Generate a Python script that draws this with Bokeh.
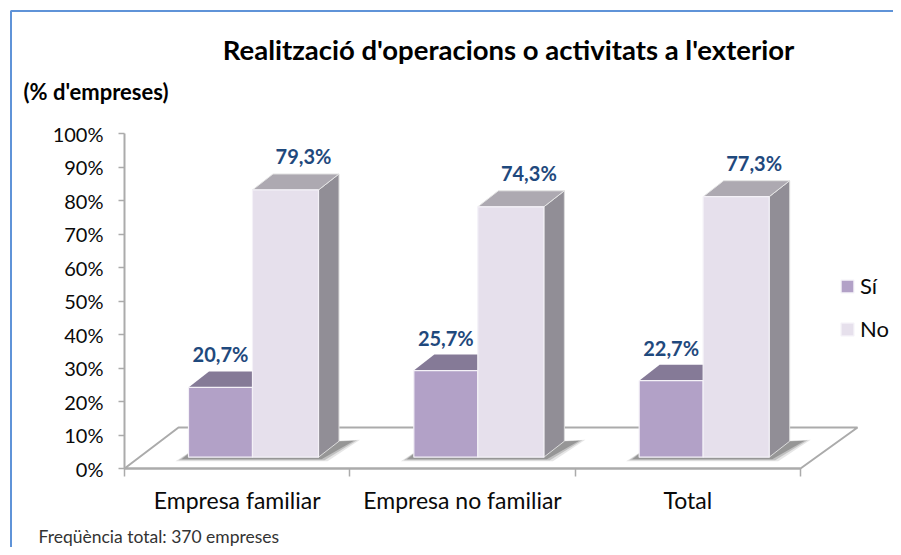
from bokeh.plotting import figure
from bokeh.models import (Range1d, LinearAxis, FixedTicker, Label, Legend, LegendItem,
                          ColumnDataSource)
from bokeh.embed import file_html
from bokeh.resources import INLINE
from bokeh.core.properties import value

categories = ["Empresa familiar", "Empresa no familiar", "Total"]
si_values = [20.7, 25.7, 22.7]
no_values = [79.3, 74.3, 77.3]
si_labels = ["20,7%", "25,7%", "22,7%"]
no_labels = ["79,3%", "74,3%", "77,3%"]
y_ticks = list(range(0, 101, 10))
title_text = "Realització d'operacions o activitats a l'exterior"
unit_text = "(% d'empreses)"
footer_text = "Freqüència total: 370 empreses"

W, H = 893, 547
X0, X1 = 124.0, 800.0            # x of the category span
Y0, Y100 = 468.0, 133.0          # y of 0 % and 100 %
SX = (X1 - X0) / 3
SY = (Y0 - Y100) / 100

x_start = -X0 / SX
x_end = (W - X0) / SX
y_end = Y0 / SY
y_start = (Y0 - H) / SY

p = figure(width=W, height=H, output_backend="svg", toolbar_location=None,
           x_range=Range1d(x_start, x_end), y_range=Range1d(y_start, y_end),
           x_axis_type=None, y_axis_type=None, min_border=0, outline_line_color=None,
           background_fill_color="white", border_fill_color="white")
p.grid.visible = False

FONT = "Lato"
AXC = "#ababab"
depth_x = 20.5 / SX
depth_y = 16.0 / SY
base = 3.37                      # bars stand this far up the floor
rise = 1.006                     # front plane is slightly nearer than the axis
left_u, mid_u, right_u = 0.284, 0.568, 0.861
fy = 41.0 / SY

# outer frame
FRAME = "#5f93d8"
fl, fr, ft = (10.5 - X0) / SX, x_end + 1, (Y0 - 10.5) / SY
p.line([fl, fl, fr], [y_start - 1, ft, ft], line_color=FRAME, line_width=2)

# floor
p.patch([0, 3, 3 + 57 / SX, 54 / SX], [0, 0, fy, fy], fill_color="white", line_color=AXC, line_width=2)

# soft shadows
for g in range(3):
    for grow, a in ((9, 0.15), (6, 0.25), (3, 0.4)):
        gx = grow / SX
        gy = grow / SY / 3
        xs = [g + left_u - 4 / SX - gx, g + right_u + gx,
              g + right_u + depth_x + 12 / SX + gx, g + left_u + 8 / SX]
        ys = [base - 0.3 - gy, base - 0.3 - gy, base + depth_y + gy / 2, base + depth_y * 0.6]
        p.patch(xs, ys, fill_color="#555555", fill_alpha=a, line_color=None)

EDGE = "#f4f1f7"
for g, (s, n) in enumerate(zip(si_values, no_values)):
    st = base + s * rise
    nt = base + n * rise
    p.patch([g + left_u, g + mid_u, g + mid_u + depth_x, g + left_u + depth_x],
            [st, st, st + depth_y, st + depth_y], fill_color="#857a97", line_color=None)
    p.patch([g + right_u, g + right_u + depth_x, g + right_u + depth_x, g + right_u],
            [base, base + depth_y, nt + depth_y, nt], fill_color="#918e96", line_color="#dcdcdc", line_width=1)
    p.patch([g + mid_u, g + right_u, g + right_u + depth_x, g + mid_u + depth_x],
            [nt, nt, nt + depth_y, nt + depth_y], fill_color="#ada9b1", line_color="#e4e4e4", line_width=1)

cx = list(range(3))
si_src = ColumnDataSource(dict(
    left=[g + left_u for g in cx], right=[g + mid_u for g in cx],
    bottom=[base] * 3, top=[base + v * rise for v in si_values]))
no_src = ColumnDataSource(dict(
    left=[g + mid_u for g in cx], right=[g + right_u for g in cx],
    bottom=[base] * 3, top=[base + v * rise for v in no_values]))
si_r = p.quad(left="left", right="right", bottom="bottom", top="top", source=si_src,
              fill_color="#b2a1c7", line_color=EDGE, line_width=1.2)
no_r = p.quad(left="left", right="right", bottom="bottom", top="top", source=no_src,
              fill_color="#e6e0ec", line_color=EDGE, line_width=1.2)

LAB = "#1f497d"
lab_px = "20px"
si_x = [g + (left_u + mid_u) / 2 for g in cx]
no_x = [g + (mid_u + right_u) / 2 + 18 / SX for g in cx]
p.text(si_x, [base + v * rise + 33 / SY for v in si_values], text=si_labels,
       text_font=value(FONT), text_font_style="bold", text_font_size=value(lab_px),
       text_color=LAB, text_align="center", text_baseline="middle")
p.text(no_x, [base + v * rise + 34 / SY for v in no_values], text=no_labels,
       text_font=value(FONT), text_font_style="bold", text_font_size=value(lab_px),
       text_color=LAB, text_align="center", text_baseline="middle")

yaxis = LinearAxis(fixed_location=0, bounds=(0, 100),
                   ticker=FixedTicker(ticks=y_ticks),
                   major_label_overrides={t: f"{t}%" for t in y_ticks})
yaxis.axis_line_color = AXC
yaxis.axis_line_width = 2
yaxis.major_tick_line_color = AXC
yaxis.major_tick_line_width = 1.5
yaxis.major_tick_in = 0
yaxis.major_tick_out = 6
yaxis.minor_tick_line_color = None
yaxis.major_label_text_font = FONT
yaxis.major_label_text_font_size = "20px"
yaxis.major_label_text_color = "#0a0a0a"
yaxis.major_label_standoff = 15
p.add_layout(yaxis, "left")

xaxis = LinearAxis(fixed_location=0, bounds=(0, 3),
                   ticker=FixedTicker(ticks=[0.5, 1.5, 2.5], minor_ticks=[0, 1, 2, 3]),
                   major_label_overrides={i + 0.5: c for i, c in enumerate(categories)})
xaxis.axis_line_color = AXC
xaxis.axis_line_width = 2
xaxis.major_tick_line_color = None
xaxis.major_tick_in = 0
xaxis.major_tick_out = 8
xaxis.minor_tick_line_color = AXC
xaxis.minor_tick_line_width = 1.5
xaxis.minor_tick_in = 0
xaxis.minor_tick_out = 8
xaxis.major_label_text_font = FONT
xaxis.major_label_text_font_size = "23px"
xaxis.major_label_text_color = "#0a0a0a"
xaxis.major_label_standoff = 9
p.add_layout(xaxis, "below")

def page_label(text, x, y, size, bold=False, align="left", color="#000000"):
    p.add_layout(Label(x=x, y=H - y, x_units="screen", y_units="screen", text=text,
                       text_font=FONT, text_font_size=size,
                       text_font_style="bold" if bold else "normal",
                       text_align=align, text_baseline="middle", text_color=color))

page_label(title_text, 508, 49, "27.5px", bold=True, align="center")
page_label(unit_text, 23, 91, "22px", bold=True)
page_label(footer_text, 38, 536, "17.5px", color="#333333")

legend = Legend(items=[LegendItem(label="Sí", renderers=[si_r]),
                       LegendItem(label="No", renderers=[no_r])],
                location=(839, 205), orientation="vertical",
                background_fill_alpha=0, border_line_color=None,
                glyph_width=16, glyph_height=16, label_standoff=5, spacing=16,
                label_text_font=FONT, label_text_font_size="22px", label_text_color="#0a0a0a",
                margin=0, padding=5)
p.add_layout(legend)

open("out.html", "w").write(file_html(p, INLINE))
